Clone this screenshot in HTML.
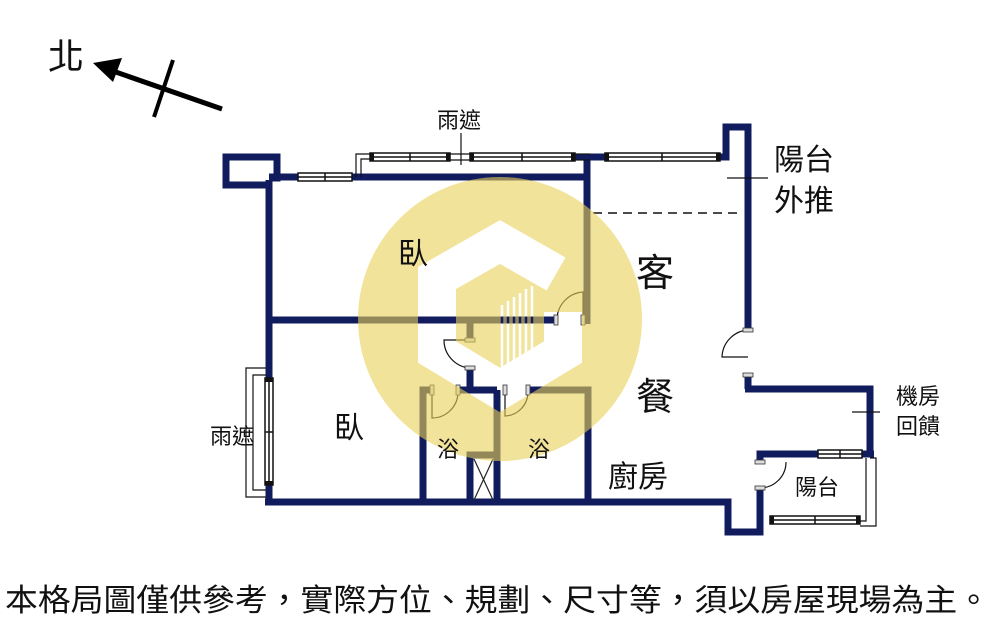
<!DOCTYPE html>
<html><head><meta charset="utf-8"><style>
html,body{margin:0;padding:0;background:#fff;}
svg{display:block;}
.t{font-family:"Liberation Sans","Noto Sans CJK TC",sans-serif;fill:#111;}
</style></head><body>
<svg width="1000" height="640" viewBox="0 0 1000 640" xmlns="http://www.w3.org/2000/svg">
<defs>
<mask id="wm">
<rect width="1000" height="640" fill="#fff"/>
<polyline points="563,312 563,352 500,390 437,352 437,278 500,242 556,274" fill="none" stroke="#000" stroke-width="38" stroke-linejoin="miter"/>
<g stroke="#000" stroke-width="2.5">
<line x1="502" y1="305" x2="502" y2="372"/><line x1="508" y1="301" x2="508" y2="369"/><line x1="514" y1="297" x2="514" y2="366"/><line x1="520" y1="293" x2="520" y2="363"/><line x1="526" y1="289" x2="526" y2="360"/><line x1="532" y1="286" x2="532" y2="357"/>
</g>
</mask>
</defs>

<text x="48" y="69" class="t" font-size="36" font-family="Liberation Serif,'Noto Serif CJK SC',serif">北</text>
<line x1="222" y1="109" x2="110" y2="70" stroke="#000" stroke-width="5"/>
<polygon points="93,63 122,58 113,82" fill="#000"/>
<line x1="173" y1="60" x2="154" y2="117" stroke="#000" stroke-width="4"/>

<g fill="none" stroke="#101c5e" stroke-width="7" stroke-linejoin="miter">
<polyline points="272,178 277,178 277,157 226,157 226,185 269,185"/>
<line x1="269" y1="177" x2="298" y2="177"/>
<line x1="352" y1="177" x2="590" y2="177"/>
<line x1="269" y1="180" x2="269" y2="378"/>
<line x1="269" y1="485" x2="269" y2="505"/>
<line x1="575" y1="157" x2="605" y2="157"/>
<line x1="587" y1="154" x2="587" y2="324"/>
<polyline points="720,157 726,157 726,127 748,127 748,330"/>
<line x1="748" y1="375" x2="748" y2="389"/>
<polyline points="745,389 870,389 870,456"/>
<line x1="269" y1="320" x2="555" y2="320"/>
<line x1="584" y1="320" x2="590" y2="320"/>
<line x1="470" y1="320" x2="470" y2="340"/>
<line x1="470" y1="368" x2="470" y2="392"/>
<polyline points="423,505 423,390 432,390"/>
<line x1="458" y1="390" x2="497" y2="390"/>
<line x1="497" y1="390" x2="497" y2="505"/>
<polyline points="528,390 588,390 588,505"/>
<polyline points="470,505 470,455 497,455"/>
<polyline points="265,502 728,502 728,532 760,532 760,488"/>
<polyline points="760,462 760,454 818,454"/>
<line x1="862" y1="454" x2="874" y2="454"/>
</g>
<g stroke="#222" stroke-width="1.2"><line x1="474" y1="459" x2="493" y2="500"/><line x1="493" y1="459" x2="474" y2="500"/></g>

<g fill="#fff" stroke="#111" stroke-width="1.5">
<rect x="298" y="173" width="54" height="8"/><line x1="298" y1="177" x2="352" y2="177"/><line x1="325" y1="173" x2="325" y2="181"/>
<rect x="370" y="153" width="80" height="8"/><line x1="370" y1="157" x2="450" y2="157"/><line x1="410" y1="153" x2="410" y2="161"/>
<rect x="470" y="153" width="105" height="8"/><line x1="470" y1="157" x2="575" y2="157"/><line x1="522" y1="153" x2="522" y2="161"/>
<rect x="605" y="153" width="115" height="8"/><line x1="605" y1="157" x2="720" y2="157"/><line x1="662" y1="153" x2="662" y2="161"/>
<rect x="265" y="378" width="8" height="107"/><line x1="269" y1="378" x2="269" y2="485"/><line x1="265" y1="432" x2="273" y2="432"/>
<rect x="818" y="450" width="44" height="8"/><line x1="818" y1="454" x2="862" y2="454"/><line x1="840" y1="450" x2="840" y2="458"/>
<rect x="770" y="516" width="90" height="8"/><line x1="770" y1="520" x2="860" y2="520"/><line x1="815" y1="516" x2="815" y2="524"/>
</g>
<g fill="#111"><rect x="370" y="153" width="4" height="8"/><rect x="446" y="153" width="4" height="8"/><rect x="470" y="153" width="4" height="8"/><rect x="571" y="153" width="4" height="8"/><rect x="605" y="153" width="4" height="8"/><rect x="716" y="153" width="4" height="8"/><rect x="265" y="378" width="8" height="4"/><rect x="265" y="481" width="8" height="4"/><rect x="770" y="516" width="4" height="8"/><rect x="856" y="516" width="4" height="8"/></g>
<g fill="none" stroke="#111" stroke-width="1.2">
<polyline points="356,177 356,154 370,154"/><polyline points="361,177 361,159 370,159"/>
<line x1="450" y1="154" x2="470" y2="154"/><line x1="450" y1="160" x2="470" y2="160"/>
<line x1="575" y1="154" x2="590" y2="154"/><line x1="575" y1="160" x2="590" y2="160"/>
<polyline points="266,368 246,368 246,497 266,497"/><polyline points="266,375 253,375 253,490 266,490"/>
<polyline points="870,458 876,458 876,526 860,526"/><polyline points="866,458 866,521 860,521"/>
<line x1="593" y1="213" x2="742" y2="213" stroke-dasharray="9,6" stroke-width="1.5"/>
<line x1="461" y1="133" x2="461" y2="165"/>
<line x1="727" y1="178" x2="768" y2="178"/>
<line x1="852" y1="412" x2="880" y2="412"/>
<path d="M583,320 L583,292 A28,28 0 0 0 557,320"/>
<path d="M470,340 L444,340 A28,28 0 0 0 470,368"/>
<path d="M432,390 L432,418 A26,26 0 0 0 458,392"/>
<path d="M505,390 L505,416 A24,24 0 0 0 528,392"/>
<path d="M748,330 A28,28 0 0 0 722,357 L748,357"/>
<path d="M786,462 A26,26 0 0 1 760,488"/>
</g>
<g fill="#ddd" stroke="#333" stroke-width="0.8">
<rect x="554" y="315" width="4" height="10"/><rect x="581" y="315" width="4" height="10"/>
<rect x="465" y="338" width="10" height="4"/><rect x="465" y="366" width="10" height="4"/>
<rect x="430" y="385" width="4" height="10"/><rect x="456" y="385" width="4" height="10"/>
<rect x="503" y="385" width="4" height="10"/><rect x="526" y="385" width="4" height="10"/>
<rect x="743" y="328" width="10" height="4"/><rect x="743" y="373" width="10" height="4"/>
<rect x="755" y="460" width="10" height="4"/><rect x="755" y="486" width="10" height="4"/>
</g>

<g mask="url(#wm)">
<circle cx="500" cy="319" r="142" fill="#ead157" opacity="0.6"/>
</g>

<g class="t">
<text x="437" y="128" font-size="22">雨遮</text>
<text x="774" y="170" font-size="30">陽台</text>
<text x="774" y="211" font-size="30">外推</text>
<text x="398" y="264" font-size="30">臥</text>
<text x="636" y="286" font-size="38">客</text>
<text x="636" y="410" font-size="38">餐</text>
<text x="334" y="438" font-size="30">臥</text>
<text x="210" y="444" font-size="22">雨遮</text>
<text x="437" y="457" font-size="22">浴</text>
<text x="528" y="457" font-size="22">浴</text>
<text x="608" y="487" font-size="30">廚房</text>
<text x="795" y="495" font-size="22">陽台</text>
<text x="896" y="404" font-size="22">機房</text>
<text x="896" y="434" font-size="22">回饋</text>
<text x="5" y="611" font-size="31" textLength="985" lengthAdjust="spacingAndGlyphs">本格局圖僅供參考，實際方位、規劃、尺寸等，須以房屋現場為主。</text>
</g>
</svg>
</body></html>
